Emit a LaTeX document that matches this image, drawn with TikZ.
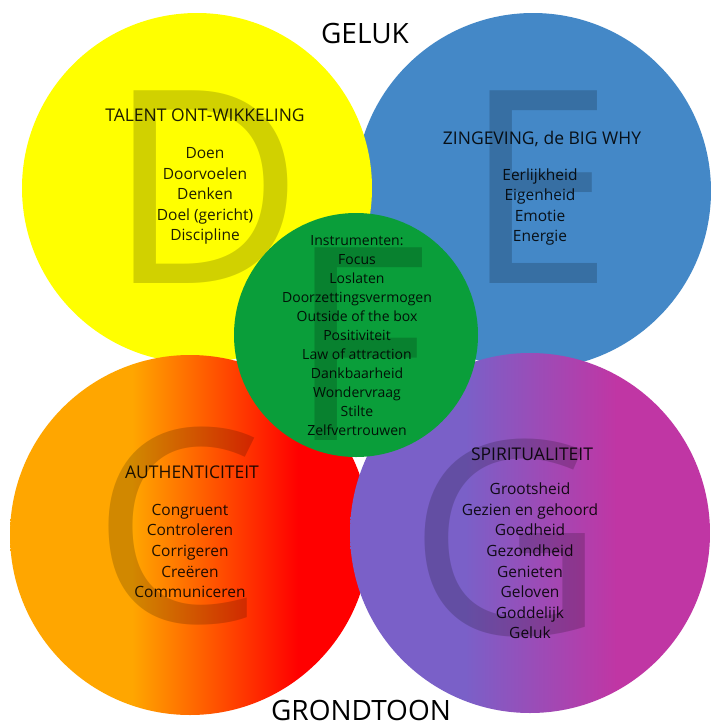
\documentclass[tikz,border=0pt]{standalone}
\usepackage{fontspec}
\setmainfont{Open Sans}
\usepackage{tikz}

\definecolor{geel}{RGB}{255,255,0}
\definecolor{blauw}{RGB}{68,136,199}
\definecolor{groen}{RGB}{10,158,58}
\definecolor{oranje}{RGB}{255,166,0}
\definecolor{rood}{RGB}{255,0,0}
\definecolor{paars}{RGB}{122,96,200}
\definecolor{roze}{RGB}{192,54,164}

\pgfdeclarehorizontalshading{authshade}{100bp}{color(0bp)=(oranje); color(42bp)=(oranje); color(65bp)=(rood); color(100bp)=(rood)}
\pgfdeclarehorizontalshading{spirshade}{100bp}{color(0bp)=(paars); color(41bp)=(paars); color(62bp)=(roze); color(100bp)=(roze)}

\tikzset{
  kop/.style={inner sep=0pt, font=\fontsize{28}{30}\selectfont},
  titel/.style={text=black, text opacity=0.88, font=\fontsize{17.5}{19}\selectfont},
  lijst/.style={text=black, text opacity=0.88, align=center, font=\fontsize{15.5}{20.6}\selectfont},
  groenlijst/.style={text=black, text opacity=0.88, align=center, font=\fontsize{14}{19}\selectfont},
  letter/.style={anchor=base, inner sep=0pt, text=black, text opacity=0.18, font=\fontsize{270}{270}\selectfont}
}

\begin{document}
\begin{tikzpicture}[x=1pt, y=-1pt]
    \useasboundingbox (0,0) rectangle (711,724);
    \fill[white] (0,0) rectangle (711,724);

    \fill[blauw] (533,191) circle (178);
    \fill[geel] (197,188) circle (175);
    \shade[shading=authshade] (190,535) circle (180);
    \shade[shading=spirshade] (530,533) circle (180);

    \node[letter] (letterD) at (206,283) {D};
    \node[letter] (letterE) at (539,283) {E};
    \node[letter] (letterC) at (178,622) {C};
    \node[letter] (letterG) at (507,634) {G};

    \fill[groen] (356,335) circle (122);
    \node[letter] (letterF) at (358,440) {F};

    \node[kop] (geluk) at (365,33) {GELUK};
    \node[kop] (grondtoon) at (361,710) {GRONDTOON};

    \node[titel] (talent) at (205,115) {TALENT ONT-WIKKELING};
    \node[lijst] (talentlijst) at (205,196) {Doen\\Doorvoelen\\Denken\\Doel (gericht)\\Discipline};

    \node[titel] (zingeving) at (542,139) {ZINGEVING, de BIG WHY};
    \node[lijst] (zingevinglijst) at (540,207) {Eerlijkheid\\Eigenheid\\Emotie\\Energie};

    \node[groenlijst] (instrumenten) at (357,336) {Instrumenten:\\Focus\\Loslaten\\Doorzettingsvermogen\\Outside of the box\\Positiviteit\\Law of attraction\\Dankbaarheid\\Wondervraag\\Stilte\\Zelfvertrouwen};

    \node[titel] (authenticiteit) at (192,472) {AUTHENTICITEIT};
    \node[lijst] (authlijst) at (190,551) {Congruent\\Controleren\\Corrigeren\\Creëren\\Communiceren};

    \node[titel] (spiritualiteit) at (532,454) {SPIRITUALITEIT};
    \node[lijst] (spirlijst) at (530,561) {Grootsheid\\Gezien en gehoord\\Goedheid\\Gezondheid\\Genieten\\Geloven\\Goddelijk\\Geluk};
\end{tikzpicture}
\end{document}
